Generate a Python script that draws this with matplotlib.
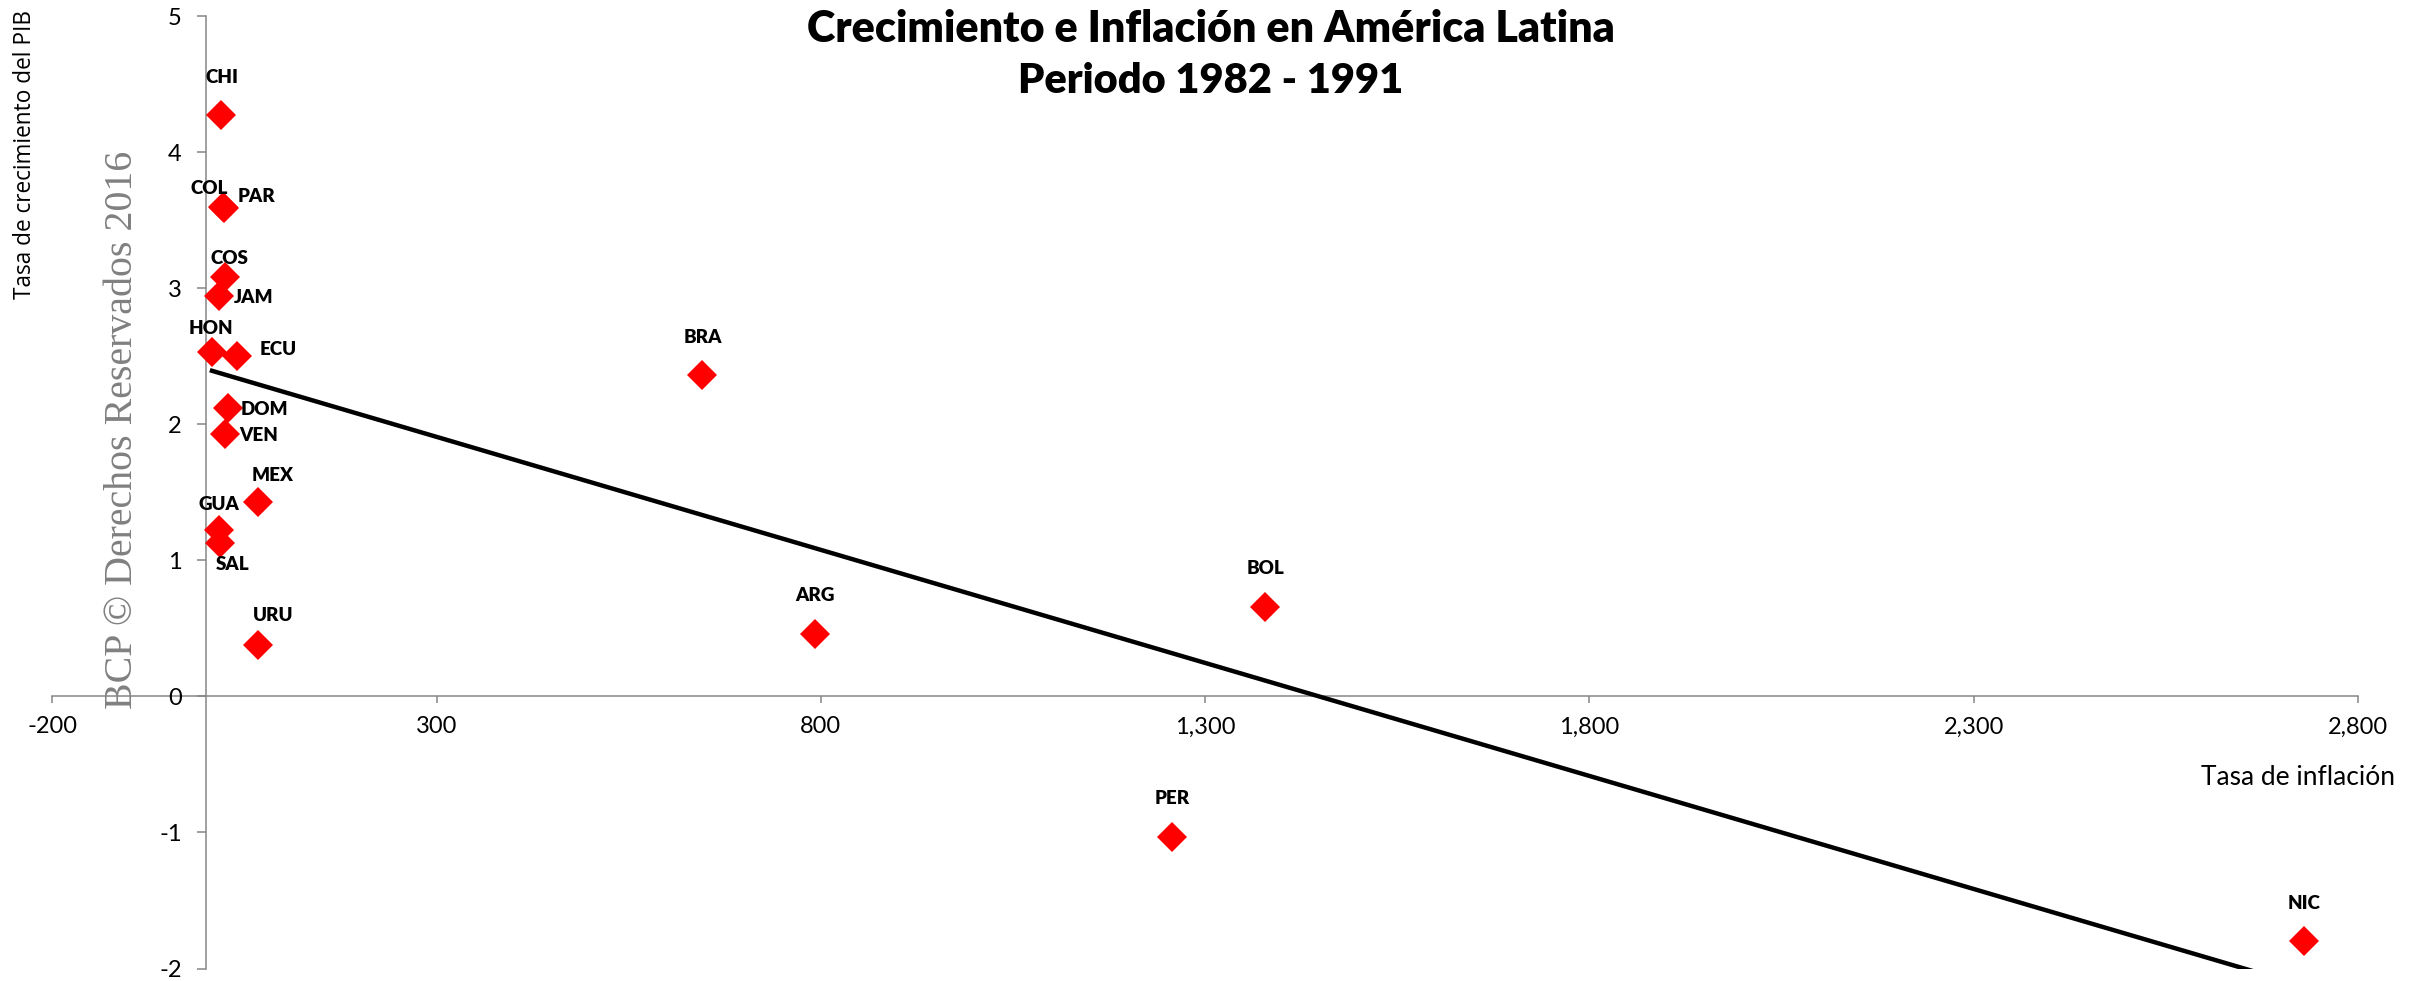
import numpy as np
import matplotlib
matplotlib.use("Agg")
import matplotlib.pyplot as plt

# Inflación promedio (%) y crecimiento del PIB (%) 1982-1991
paises = ["CHI", "COL", "PAR", "COS", "JAM", "HON", "ECU", "DOM", "VEN",
          "MEX", "GUA", "SAL", "URU", "BRA", "ARG", "BOL", "PER", "NIC"]
inflacion = [19.5, 21.5, 23.0, 25.2, 16.7, 7.8, 39.8, 28.2, 25.2,
             67.7, 16.6, 18.2, 67.7, 646, 793, 1378, 1257, 2730]
crecimiento = [4.27, 3.60, 3.59, 3.08, 2.94, 2.53, 2.50, 2.12, 1.93,
               1.43, 1.22, 1.13, 0.38, 2.36, 0.46, 0.66, -1.03, -1.80]

x_ticks = [-200, 300, 800, 1300, 1800, 2300, 2800]
y_ticks = [-2, -1, 0, 1, 2, 3, 4, 5]

# desplazamiento de cada etiqueta respecto a su punto (en puntos)
offsets = {
    "CHI": (0.7, 27), "COL": (-9.6, 13.2), "PAR": (23.5, 8.4),
    "COS": (3.2, 13.7), "JAM": (25, -0.7), "HON": (-0.7, 16.8),
    "ECU": (29.9, 4.8), "DOM": (26.4, -1.2), "VEN": (24.1, -1.2),
    "MEX": (10.3, 19.2), "GUA": (0, 18.7), "SAL": (9.4, -15.6),
    "URU": (10.6, 20.9),
}
default_offset = (0, 27.4)

FONT = ["Lato", "DejaVu Sans"]
AXIS_GRAY = "#868686"

fig = plt.figure(figsize=(24.27, 9.81), dpi=100)
ax = fig.add_axes([0.02155, 0.01274, 0.94995, 0.97095])

ax.set_xlim(-200, 2800)
ax.set_ylim(-2, 5)

# ejes cruzando en el origen
for side in ("top", "right"):
    ax.spines[side].set_visible(False)
ax.spines["left"].set_position(("data", 0))
ax.spines["bottom"].set_position(("data", 0))
for side in ("left", "bottom"):
    ax.spines[side].set_color(AXIS_GRAY)
    ax.spines[side].set_linewidth(1.1)
    ax.spines[side].set_zorder(1)

ax.set_xticks(x_ticks)
ax.set_yticks(y_ticks)
ax.set_xticklabels([f"{v:,.0f}" for v in x_ticks])
ax.set_yticklabels([str(v) for v in y_ticks])
ax.tick_params(axis="x", direction="out", length=5, width=1.1, color=AXIS_GRAY, pad=9.5)
ax.tick_params(axis="y", direction="out", length=6.5, width=1.1, color=AXIS_GRAY, pad=11)
for lbl in ax.get_xticklabels() + ax.get_yticklabels():
    lbl.set_fontfamily(FONT)
    lbl.set_fontsize(17)

# marca de agua
fig.text(0.0503, 0.562, "BCP \u00a9 Derechos Reservados 2016", rotation=90,
         ha="center", va="center", fontsize=28.7, color="#808080",
         family=["Liberation Serif", "DejaVu Serif"], zorder=0)

# recta de tendencia por mínimos cuadrados
x = np.array(inflacion)
y = np.array(crecimiento)
m, b = np.polyfit(x, y, 1)
xs = np.array([x.min(), x.max()])
ax.plot(xs, m * xs + b, color="black", linewidth=3.2, zorder=2)

ax.plot(x, y, linestyle="none", marker="D", markersize=15.5,
        color="#ff0000", markeredgewidth=0, zorder=3)

for name, xi, yi in zip(paises, inflacion, crecimiento):
    dx, dy = offsets.get(name, default_offset)
    ax.annotate(name, (xi, yi), xytext=(dx, dy), textcoords="offset points",
                ha="center", va="center", fontsize=13.5, fontweight="heavy",
                family=FONT, zorder=4)

# títulos y rótulos de ejes
fig.text(0.499, 0.9575, "Crecimiento e Inflación en América Latina",
         ha="center", va="baseline", fontsize=31, fontweight="heavy", family=FONT)
fig.text(0.499, 0.9049, "Periodo 1982 - 1991",
         ha="center", va="baseline", fontsize=30, fontweight="heavy", family=FONT)
fig.text(0.9868, 0.1998, "Tasa de inflación", ha="right", va="baseline",
         fontsize=19, family=FONT)
fig.text(0.0103, 0.843, "Tasa de crecimiento del PIB", rotation=90,
         ha="center", va="center", fontsize=16.3,
         family=["Open Sans", "DejaVu Sans"])

fig.savefig("out.png", dpi=100)
